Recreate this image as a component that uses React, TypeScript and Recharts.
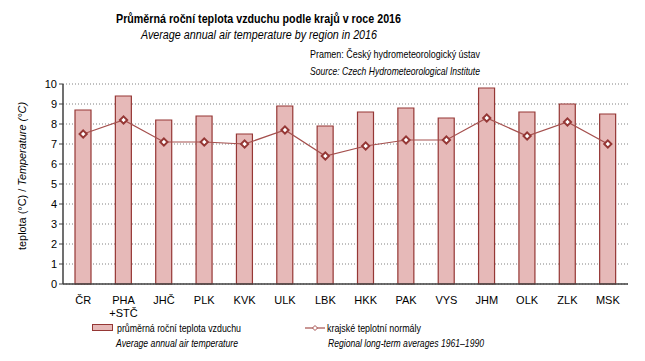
import React from 'react';
import {
  ComposedChart,
  Bar,
  Line,
  XAxis,
  YAxis,
  CartesianGrid,
} from 'recharts';

const regions = ['ČR', 'PHA\n+STČ', 'JHČ', 'PLK', 'KVK', 'ULK', 'LBK', 'HKK', 'PAK', 'VYS', 'JHM', 'OLK', 'ZLK', 'MSK'];
const annualTemp = [8.7, 9.4, 8.2, 8.4, 7.5, 8.9, 7.9, 8.6, 8.8, 8.3, 9.8, 8.6, 9.0, 8.5];
const normalTemp = [7.5, 8.2, 7.1, 7.1, 7.0, 7.7, 6.4, 6.9, 7.2, 7.2, 8.3, 7.4, 8.1, 7.0];
const yTicks = [0, 1, 2, 3, 4, 5, 6, 7, 8, 9, 10];
const boundaryTicks = [0, 1, 2, 3, 4, 5, 6, 7, 8, 9, 10, 11, 12, 13, 14];

const data = regions.map((r, i) => ({
  region: r,
  pos: i + 0.5,
  annual: annualTemp[i],
  normal: normalTemp[i],
}));

const FONT = '"Liberation Sans", Arial, sans-serif';
const BAR_FILL = '#e6b9b8';
const DARK_RED = '#953735';
const LINE_RED = '#a5504e';
const AXIS = '#404040';

// white diamond marker like the Excel original
const Diamond = (props: any) => {
  const { cx, cy } = props;
  if (cx == null || cy == null) return null;
  const r = 3.6;
  return (
    <path
      d={`M${cx},${cy - r} L${cx + r},${cy} L${cx},${cy + r} L${cx - r},${cy} Z`}
      fill="#fff"
      stroke={DARK_RED}
      strokeWidth={2}
    />
  );
};

// category label, split on \n for "PHA / +STČ"
const RegionTick = (props: any) => {
  const { x, y, payload } = props;
  const lines = String(payload.value).split('\n');
  return (
    <g>
      {lines.map((l, i) => (
        <text
          key={i}
          x={x}
          y={y + 12 + i * 13}
          textAnchor="middle"
          fontSize={11}
          fontFamily={FONT}
          fill="#000"
        >
          {l}
        </text>
      ))}
    </g>
  );
};

export default function App() {
  return (
    <div style={{ position: 'absolute', left: 0, top: 0, width: 645, height: 361, background: '#fff' }}>
      <ComposedChart
        width={645}
        height={361}
        data={data}
        margin={{ top: 84, right: 17, bottom: 47, left: 0 }}
      >
        <CartesianGrid
          vertical={false}
          stroke="#808080"
          strokeDasharray="1 2"
          yAxisId="left"
        />
        {/* invisible numeric axis only for tick marks between categories */}
        <XAxis
          xAxisId="bounds"
          dataKey="pos"
          type="number"
          domain={[0, 14]}
          ticks={boundaryTicks}
          tick={false}
          tickLine={{ stroke: AXIS }}
          tickSize={4}
          axisLine={false}
          height={0}
        />
        <XAxis
          xAxisId="cat"
          dataKey="region"
          interval={0}
          tickLine={false}
          axisLine={{ stroke: AXIS, strokeWidth: 1.5 }}
          tick={<RegionTick />}
          height={30}
        />
        <YAxis
          yAxisId="left"
          domain={[0, 10]}
          ticks={yTicks}
          width={63}
          tickSize={4}
          tickLine={{ stroke: AXIS }}
          axisLine={{ stroke: AXIS, strokeWidth: 1.5 }}
          tick={{ fontSize: 11, fill: '#000', fontFamily: FONT }}
          interval={0}
        />
        <YAxis
          yAxisId="right"
          orientation="right"
          domain={[0, 10]}
          width={0}
          tick={false}
          tickLine={false}
          axisLine={{ stroke: AXIS, strokeWidth: 1.5 }}
        />
        <Bar
          xAxisId="cat"
          yAxisId="left"
          dataKey="annual"
          barSize={16}
          fill={BAR_FILL}
          stroke={DARK_RED}
          strokeWidth={1.2}
          isAnimationActive={false}
        />
        <Line
          xAxisId="cat"
          yAxisId="left"
          dataKey="normal"
          type="linear"
          stroke={LINE_RED}
          strokeWidth={1.2}
          dot={<Diamond />}
          activeDot={false}
          isAnimationActive={false}
        />
      </ComposedChart>

      <svg
        width={645}
        height={361}
        style={{ position: 'absolute', left: 0, top: 0, pointerEvents: 'none' }}
        fontFamily={FONT}
      >
        <text x={116} y={23} fontSize={13} fontWeight="bold" textLength={285} lengthAdjust="spacingAndGlyphs">
          Průměrná roční teplota vzduchu podle krajů v roce 2016
        </text>
        <text x={141} y={39} fontSize={12.5} fontStyle="italic" textLength={236} lengthAdjust="spacingAndGlyphs">
          Average annual air temperature by region in 2016
        </text>
        <text x={310} y={58} fontSize={11} textLength={170} lengthAdjust="spacingAndGlyphs">
          Pramen: Český hydrometeorologický ústav
        </text>
        <text x={310} y={75} fontSize={11} fontStyle="italic" textLength={170} lengthAdjust="spacingAndGlyphs">
          Source: Czech Hydrometeorological Institute
        </text>

        <text
          transform="translate(26,176) rotate(-90)"
          textAnchor="middle"
          fontSize={11}
          textLength={148}
          lengthAdjust="spacingAndGlyphs"
        >
          teplota (°C) / <tspan fontStyle="italic">Temperature (°C)</tspan>
        </text>

        <rect x={92.5} y={324.5} width={20} height={6} fill={BAR_FILL} stroke={DARK_RED} strokeWidth={1} />
        <text x={117} y={332} fontSize={11} textLength={124} lengthAdjust="spacingAndGlyphs">
          průměrná roční teplota vzduchu
        </text>
        <text x={116} y={347} fontSize={11} fontStyle="italic" textLength={122} lengthAdjust="spacingAndGlyphs">
          Average annual air temperature
        </text>

        <line x1={305} y1={328} x2={325} y2={328} stroke={LINE_RED} strokeWidth={1.2} />
        <path d="M315,325.5 L317.5,328 L315,330.5 L312.5,328 Z" fill="#fff" stroke={LINE_RED} strokeWidth={1} />
        <text x={327} y={332} fontSize={11} textLength={94} lengthAdjust="spacingAndGlyphs">
          krajské teplotní normály
        </text>
        <text x={328} y={347} fontSize={11} fontStyle="italic" textLength={156} lengthAdjust="spacingAndGlyphs">
          Regional long-term averages 1961–1990
        </text>
      </svg>
    </div>
  );
}
